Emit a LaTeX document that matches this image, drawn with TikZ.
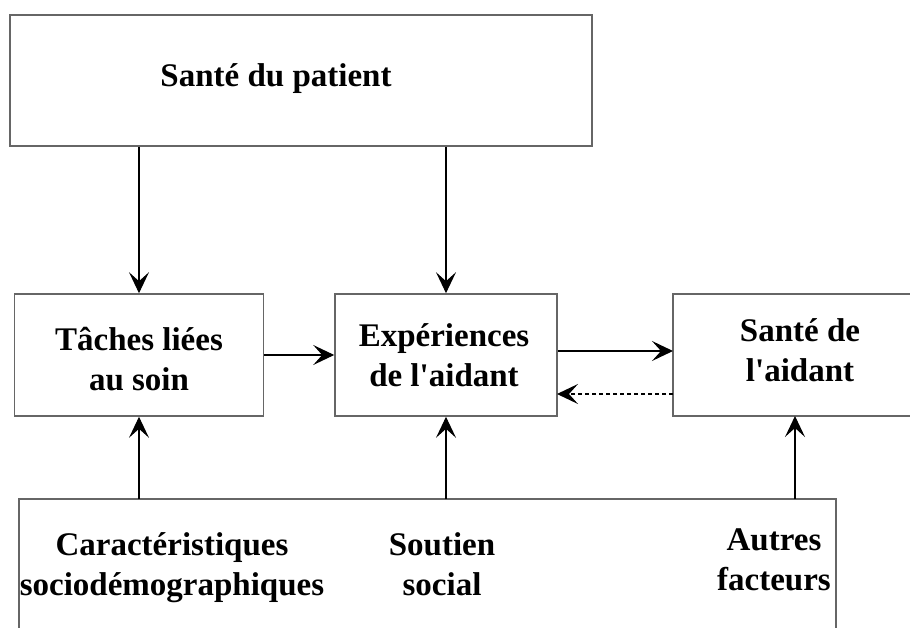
\documentclass[tikz,border=0pt]{standalone}
\usepackage{fontspec}
\setmainfont{Liberation Serif}[Ligatures=TeXOff]
\usetikzlibrary{arrows.meta}
\begin{document}
\begin{tikzpicture}[x=1pt,y=-1pt,
  boxline/.style={draw=black!60, line width=1.6pt},
  plainbox/.style={boxline, inner sep=0pt},
  lbl/.style={font=\fontsize{33}{40}\selectfont\bfseries, align=center, inner sep=0pt, anchor=base},
  arr/.style={draw=black, line width=1.1pt, -{Stealth[length=21pt,width=20pt,inset=9pt]}},
  darr/.style={arr, dash pattern=on 4pt off 3pt}]
\useasboundingbox (0,0) rectangle (910,628);
% boxes
\node[plainbox, minimum width=582pt, minimum height=131pt] (top) at (301,80.5) {};
\node[plainbox, minimum width=249pt, minimum height=122pt] (b1) at (139,355) {};
\node[plainbox, minimum width=222pt, minimum height=122pt] (b2) at (446,355) {};
\coordinate (b3nw) at (673,294);
\coordinate (b3sw) at (673,416);
\draw[boxline] (912,294) -- (b3nw) -- (b3sw) -- (912,416);
\coordinate (botnw) at (19,499);
\coordinate (botne) at (836,499);
\draw[boxline] (19,630) -- (botnw) -- (botne) -- (836,630);
% texts
\node[lbl] (t0) at (276,87) {Santé du patient};
\node[lbl] (t1) at (139,390) {Tâches liées\\au soin};
\node[lbl] (t2) at (444,386) {Expériences\\de l'aidant};
\node[lbl] (t3) at (800,381) {Santé de\\l'aidant};
\node[lbl] (t4) at (172,595) {Caractéristiques\\sociodémographiques};
\node[lbl] (t5) at (442,595) {Soutien\\social};
\node[lbl] (t6) at (774,590) {Autres\\facteurs};
% connector coordinates
\coordinate (b3in) at (673,351);
\coordinate (b3out) at (673,394);
\coordinate (b2back) at (557,394);
\coordinate (s1) at (139,499);
\coordinate (s2) at (446,499);
\coordinate (s3) at (795,499);
\coordinate (e3) at (795,416);
% connectors
\draw[arr] (top.south -| b1) -- (b1.north);
\draw[arr] (top.south -| b2) -- (b2.north);
\draw[arr] (b1.east) -- (b2.west);
\draw[arr] (b2.east |- b3in) -- (b3in);
\draw[darr] (b3out) -- (b2back);
\draw[arr] (s1) -- (b1.south);
\draw[arr] (s2) -- (b2.south);
\draw[arr] (s3) -- (e3);
\end{tikzpicture}
\end{document}
